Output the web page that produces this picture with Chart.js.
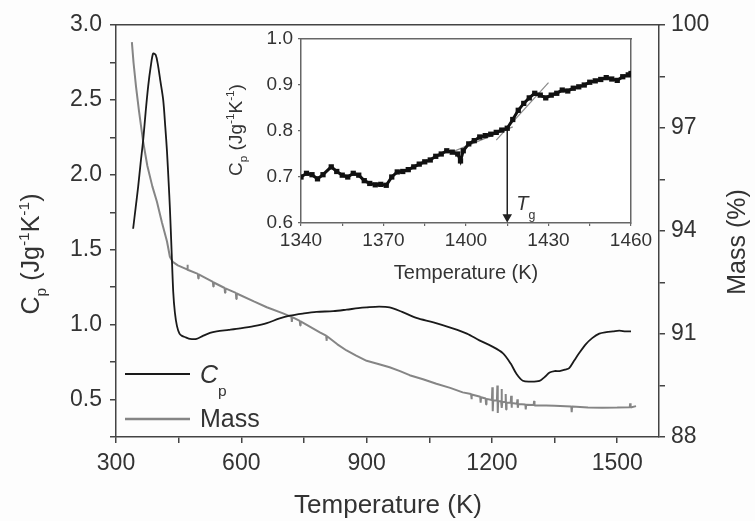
<!DOCTYPE html>
<html>
<head>
<meta charset="utf-8">
<script src="https://cdn.jsdelivr.net/npm/chart.js@4.4.1/dist/chart.umd.min.js"></script>
<style>
    body { margin: 0; background: #fdfdfd; }
    #wrap { position: relative; width: 755px; height: 521px; }
    #main { position: absolute; left: 0; top: 0; }
    #inset { position: absolute; left: 215px; top: 10px; }
</style>
</head>
<body>
<div id="wrap">
    <canvas id="main" width="755" height="521"></canvas>
    <canvas id="inset" width="445" height="285"></canvas>
</div>
<script>
// --- main panel: heat capacity (left axis) ---
const cpTemp = [341, 347, 353, 359, 365, 371, 377, 383, 389, 395, 400, 406, 413, 418, 422, 426, 429, 433, 437, 441,
    446, 452, 458, 467, 477, 493, 508, 525, 541, 570, 597, 630, 661, 690, 716, 750, 780, 820, 852, 880,
    900, 930, 955, 985, 1019, 1060, 1106, 1140, 1170, 1200, 1226, 1245, 1259, 1274, 1294, 1314, 1326, 1338, 1350, 1362,
    1375, 1385, 1397, 1409, 1425, 1440, 1457, 1474, 1490, 1505, 1520, 1533];
const cpVal = [1.64, 1.78, 1.92, 2.08, 2.23, 2.42, 2.59, 2.72, 2.81, 2.80, 2.74, 2.63, 2.50, 2.32, 2.16, 1.95, 1.78, 1.50, 1.22, 1.08,
    0.99, 0.94, 0.925, 0.915, 0.905, 0.905, 0.925, 0.945, 0.955, 0.965, 0.975, 0.99, 1.01, 1.04, 1.06, 1.075, 1.085, 1.09, 1.10, 1.11,
    1.115, 1.12, 1.115, 1.085, 1.045, 1.015, 0.975, 0.94, 0.895, 0.855, 0.81, 0.74, 0.67, 0.625, 0.62, 0.625, 0.65, 0.68, 0.69, 0.69,
    0.70, 0.71, 0.76, 0.81, 0.87, 0.91, 0.94, 0.95, 0.955, 0.96, 0.955, 0.955];

// --- main panel: mass (right axis), thin noise spikes included ---
const massTemp = [338, 342, 348, 355, 365, 375, 387, 398, 410, 422, 429, 436, 448,
    470, 471, 472, 496, 497, 498, 532, 533, 534, 560, 561, 562, 587, 588, 589,
    630, 661, 700, 720, 721, 722, 740, 741, 742, 788, 803, 804, 805,
    830, 852, 875, 900, 930, 955, 980, 1003, 1035, 1067, 1100, 1130,
    1150, 1151, 1152, 1172, 1173, 1174, 1185, 1186, 1187,
    1200, 1201, 1202, 1203, 1212, 1213, 1214, 1215, 1222, 1223, 1224, 1225,
    1232, 1233, 1234, 1235, 1245, 1246, 1247, 1248, 1260, 1261, 1262, 1263,
    1280, 1281, 1282, 1300, 1301, 1302, 1330, 1350, 1390, 1391, 1392,
    1430, 1464, 1500, 1530, 1531, 1532, 1545];
const massVal = [99.5, 98.9, 98.2, 97.5, 96.6, 95.9, 95.3, 94.85, 94.25, 93.7, 93.25, 93.1, 93.0,
    92.88, 93.02, 92.87, 92.75, 92.62, 92.74, 92.52, 92.38, 92.5, 92.34, 92.2, 92.33, 92.2, 92.02, 92.18,
    91.95, 91.78, 91.6, 91.5, 91.35, 91.49, 91.38, 91.25, 91.37, 91.05, 90.95, 90.8, 90.94,
    90.7, 90.52, 90.37, 90.22, 90.12, 90.03, 89.92, 89.8, 89.68, 89.55, 89.43, 89.3,
    89.25, 89.1, 89.24, 89.17, 89.0, 89.16, 89.12, 88.95, 89.11,
    89.08, 89.45, 88.75, 89.07, 89.06, 89.5, 88.7, 89.05, 89.04, 89.4, 88.85, 89.03,
    89.02, 89.25, 88.8, 89.0, 89.0, 89.2, 88.85, 88.99, 88.97, 89.1, 88.85, 88.96,
    88.95, 88.8, 88.94, 88.93, 89.05, 88.92, 88.92, 88.91, 88.89, 88.72, 88.89,
    88.86, 88.85, 88.86, 88.87, 88.98, 88.86, 88.9];

const xTicks = [300, 450, 600, 750, 900, 1050, 1200, 1350, 1500];
const xLabels = [300, 600, 900, 1200, 1500];
const cpTicks = [0.25, 0.5, 0.75, 1.0, 1.25, 1.5, 1.75, 2.0, 2.25, 2.5, 2.75, 3.0];
const cpLabels = [0.5, 1.0, 1.5, 2.0, 2.5, 3.0];
const massTicks = [88, 89.5, 91, 92.5, 94, 95.5, 97, 98.5, 100];
const massLabels = [88, 91, 94, 97, 100];

// --- inset: glass transition region ---
const insetTemp = [1340, 1342, 1344, 1346, 1348, 1351, 1353, 1355, 1357, 1359, 1361, 1363, 1365, 1367, 1369, 1371, 1373, 1375, 1377, 1379,
    1381, 1383, 1385, 1387, 1389, 1391, 1393, 1395, 1397, 1398, 1399, 1401, 1403, 1405, 1407, 1409, 1411, 1413, 1415, 1417,
    1419, 1421, 1423, 1425, 1427, 1429, 1431, 1433, 1435, 1437, 1439, 1441, 1443, 1445, 1447, 1449, 1451, 1453, 1455, 1457,
    1459, 1460];
const insetCp = [0.700, 0.708, 0.705, 0.696, 0.705, 0.722, 0.712, 0.704, 0.700, 0.708, 0.704, 0.692, 0.686, 0.683, 0.684, 0.682, 0.700, 0.711, 0.712, 0.716,
    0.722, 0.728, 0.733, 0.737, 0.745, 0.750, 0.757, 0.754, 0.750, 0.735, 0.757, 0.772, 0.779, 0.787, 0.790, 0.793, 0.797, 0.802, 0.806, 0.825,
    0.845, 0.860, 0.872, 0.882, 0.878, 0.872, 0.878, 0.882, 0.889, 0.887, 0.893, 0.896, 0.900, 0.906, 0.909, 0.912, 0.916, 0.913, 0.910, 0.918,
    0.922, 0.925];
const tanLowTemp = [1394, 1417];
const tanLowCp = [0.752, 0.809];
const tanHighTemp = [1411, 1430];
const tanHighCp = [0.780, 0.905];
const tgTemp = 1415;
const tgCp = [0.806, 0.613];
const insetXTicks = [1340, 1355, 1370, 1385, 1400, 1415, 1430, 1445, 1460];
const insetXLabels = [1340, 1370, 1400, 1430, 1460];
const insetYTicks = [0.6, 0.7, 0.8, 0.9, 1.0];

const FONT = '"Liberation Sans", Arial, sans-serif';
const TEXT = '#333';
Chart.defaults.font.family = FONT;
Chart.defaults.color = TEXT;

const pts = (xs, ys) => xs.map((x, i) => ({ x: x, y: ys[i] }));
const near = (list, v) => list.some(l => Math.abs(l - v) < 1e-6);
const setTicks = list => scale => { scale.ticks = list.map(v => ({ value: v })); };

// text with sub / superscripts, optional rotation (reads bottom to top)
function richText(ctx, runs, x, y, size, opts = {}) {
    ctx.save();
    ctx.translate(x, y);
    if (opts.rotate) ctx.rotate(-Math.PI / 2);
    let total = 0;
    const parts = runs.map(([t, s]) => {
        const small = s === 'sub' || s === 'sup';
        const fs = small ? size * 0.62 : size;
        const font = (s === 'i' ? 'italic ' : '') + fs + 'px ' + FONT;
        ctx.font = font;
        const w = ctx.measureText(t).width;
        total += w;
        let dy = 0;
        if (s === 'sub') dy = size * (opts.subDy || 0.28);
        if (s === 'sup') dy = -size * 0.4;
        return { t, font, w, dy };
    });
    let cx = opts.left ? 0 : -total / 2;
    ctx.fillStyle = TEXT;
    ctx.textAlign = 'left';
    ctx.textBaseline = 'alphabetic';
    for (const p of parts) {
        ctx.font = p.font;
        ctx.fillText(p.t, cx, p.dy);
        cx += p.w;
    }
    ctx.restore();
}

const cpTitle = [['C', ''], ['p', 'sub'], [' (Jg', ''], ['-1', 'sup'], ['K', ''], ['-1', 'sup'], [')', '']];

const mainDecor = {
    id: 'mainDecor',
    afterDraw(chart) {
        const ctx = chart.ctx;
        // legend
        ctx.save();
        ctx.lineWidth = 2;
        ctx.strokeStyle = '#1a1a1a';
        ctx.beginPath(); ctx.moveTo(125, 374); ctx.lineTo(190, 374); ctx.stroke();
        ctx.lineWidth = 2.5;
        ctx.strokeStyle = '#858585';
        ctx.beginPath(); ctx.moveTo(125, 419); ctx.lineTo(190, 419); ctx.stroke();
        ctx.restore();
        richText(ctx, [['C', 'i'], ['p', 'sub']], 200, 383, 25, { left: true, subDy: 0.5 });
        richText(ctx, [['Mass', '']], 200, 427, 25, { left: true });
        // axis titles
        richText(ctx, [['Temperature (K)', '']], 388, 513, 26);
        richText(ctx, cpTitle, 39, 254, 25, { rotate: true });
        richText(ctx, [['Mass (%)', '']], 745, 242, 25, { rotate: true });
    }
};

const axisLine = { color: '#444', width: 1.5 };
const tickGrid = { drawOnChartArea: false, tickLength: 6, color: '#444', lineWidth: 1.5 };

new Chart(document.getElementById('main'), {
    type: 'line',
    data: {
        datasets: [
            {
                label: 'Cp',
                data: pts(cpTemp, cpVal),
                yAxisID: 'y',
                borderColor: '#1a1a1a',
                borderWidth: 1.8,
                pointRadius: 0,
                tension: 0.3
            },
            {
                label: 'Mass',
                data: pts(massTemp, massVal),
                yAxisID: 'y2',
                borderColor: '#858585',
                borderWidth: 2,
                borderJoinStyle: 'bevel',
                pointRadius: 0,
                tension: 0
            }
        ]
    },
    options: {
        responsive: false,
        animation: false,
        events: [],
        layout: { padding: 0 },
        plugins: { legend: { display: false }, tooltip: { enabled: false } },
        scales: {
            x: {
                type: 'linear', position: 'bottom', min: 300, max: 1600,
                afterBuildTicks: setTicks(xTicks),
                afterFit: s => { s.height = 84; },
                ticks: {
                    autoSkip: false, maxRotation: 0, padding: 7,
                    font: { size: 23 }, color: TEXT,
                    callback: v => near(xLabels, v) ? String(v) : ''
                },
                grid: tickGrid,
                border: axisLine
            },
            xTop: {
                type: 'linear', position: 'top', min: 300, max: 1600,
                afterFit: s => { s.height = 25; },
                ticks: { display: false },
                grid: { display: false },
                border: axisLine
            },
            y: {
                type: 'linear', position: 'left', min: 0.25, max: 3.0,
                afterBuildTicks: setTicks(cpTicks),
                afterFit: s => { s.width = 116; },
                ticks: {
                    autoSkip: false, padding: 8,
                    font: { size: 23 }, color: TEXT,
                    callback: v => near(cpLabels, v) ? v.toFixed(1) : ''
                },
                grid: tickGrid,
                border: axisLine
            },
            y2: {
                type: 'linear', position: 'right', min: 88, max: 100,
                afterBuildTicks: setTicks(massTicks),
                afterFit: s => { s.width = 96; },
                ticks: {
                    autoSkip: false, padding: 6,
                    font: { size: 23 }, color: TEXT,
                    callback: v => near(massLabels, v) ? String(v) : ''
                },
                grid: tickGrid,
                border: axisLine
            }
        }
    },
    plugins: [mainDecor]
});

// inset
const insetDecor = {
    id: 'insetDecor',
    beforeDraw(chart) {
        const { ctx, chartArea: a } = chart;
        ctx.save();
        ctx.fillStyle = '#ffffff';
        ctx.fillRect(a.left, a.top, a.right - a.left, a.bottom - a.top);
        ctx.restore();
    },
    afterDraw(chart) {
        const ctx = chart.ctx;
        const xs = chart.scales.x, ys = chart.scales.y;
        const tx = xs.getPixelForValue(tgTemp) + 9;
        const ty = ys.getPixelForValue(0.628);
        richText(ctx, [['T', 'i'], ['g', 'sub']], tx, ty, 20, { left: true, subDy: 0.45 });
        richText(ctx, [['Temperature (K)', '']], 251, 269, 20);
        richText(ctx, cpTitle, 27, 120, 19, { rotate: true });
    }
};

const insetLine = { color: '#666', width: 1.5 };
const insetTick = { drawOnChartArea: false, tickLength: 3, color: '#666', lineWidth: 1.2 };

new Chart(document.getElementById('inset'), {
    type: 'line',
    data: {
        datasets: [
            {
                label: 'Cp inset',
                data: pts(insetTemp, insetCp),
                borderColor: '#111',
                backgroundColor: '#111',
                borderWidth: 3,
                pointStyle: 'rect',
                pointRadius: 1.6,
                tension: 0
            },
            {
                label: 'tangent low',
                data: pts(tanLowTemp, tanLowCp),
                borderColor: '#8a8a8a',
                borderWidth: 1.2,
                pointRadius: 0
            },
            {
                label: 'tangent high',
                data: pts(tanHighTemp, tanHighCp),
                borderColor: '#8a8a8a',
                borderWidth: 1.2,
                pointRadius: 0
            },
            {
                label: 'Tg',
                data: pts([tgTemp, tgTemp], tgCp),
                borderColor: '#222',
                backgroundColor: '#222',
                borderWidth: 1.5,
                pointStyle: 'triangle',
                pointRotation: 180,
                pointRadius: [0, 4],
                clip: false
            }
        ]
    },
    options: {
        responsive: false,
        animation: false,
        events: [],
        layout: { padding: 0 },
        plugins: { legend: { display: false }, tooltip: { enabled: false } },
        scales: {
            x: {
                type: 'linear', position: 'bottom', min: 1340, max: 1460,
                afterBuildTicks: setTicks(insetXTicks),
                afterFit: s => { s.height = 72; },
                ticks: {
                    autoSkip: false, maxRotation: 0, padding: 3,
                    font: { size: 19 }, color: TEXT,
                    callback: v => near(insetXLabels, v) ? String(v) : ''
                },
                grid: insetTick,
                border: insetLine
            },
            xTop: {
                type: 'linear', position: 'top', min: 1340, max: 1460,
                afterFit: s => { s.height = 29; },
                ticks: { display: false },
                grid: { display: false },
                border: insetLine
            },
            y: {
                type: 'linear', position: 'left', min: 0.6, max: 1.0,
                afterBuildTicks: setTicks(insetYTicks),
                afterFit: s => { s.width = 86; },
                ticks: {
                    autoSkip: false, padding: 5,
                    font: { size: 19 }, color: TEXT,
                    callback: v => v.toFixed(1)
                },
                grid: insetTick,
                border: insetLine
            },
            y2: {
                type: 'linear', position: 'right', min: 0.6, max: 1.0,
                afterFit: s => { s.width = 29; },
                ticks: { display: false },
                grid: { display: false },
                border: insetLine
            }
        }
    },
    plugins: [insetDecor]
});
</script>
</body>
</html>
